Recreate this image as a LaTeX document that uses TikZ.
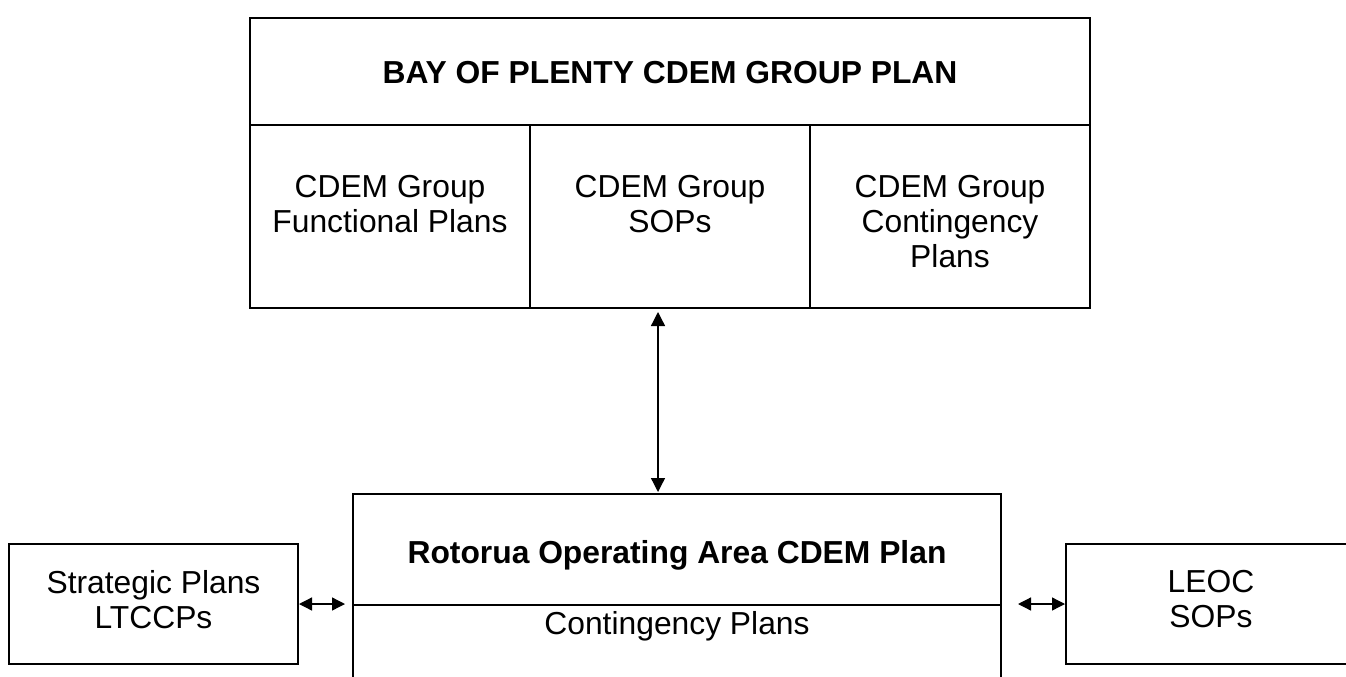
\documentclass[tikz,border=0pt]{standalone}
\usepackage{fontspec}
\setmainfont{Liberation Sans}
\usetikzlibrary{arrows.meta}
\begin{document}
\begin{tikzpicture}[x=1pt,y=-1pt,
  cell/.style={draw, line width=2pt, rectangle, inner sep=0pt, outer sep=0pt},
  txt/.style={inner sep=0pt, align=center, font=\fontsize{31.8}{35}\selectfont},
  btxt/.style={inner sep=0pt, font=\fontsize{31.8}{35}\selectfont\bfseries},
  link/.style={line width=1.3pt, {Triangle[length=14pt,width=14pt]}-{Triangle[length=14pt,width=14pt]}},
  hlink/.style={line width=1.3pt, {Triangle[length=13pt,width=13pt]}-{Triangle[length=13pt,width=13pt]}}
]
\useasboundingbox (0,0) rectangle (1346,677);
\clip (0,0) rectangle (1346,677);
% top group plan
\node[cell, minimum width=840pt, minimum height=107pt] (title) at (670,71.5) {};
\node[cell, minimum width=280pt, minimum height=183pt] (c1) at (390,216.5) {};
\node[cell, minimum width=280pt, minimum height=183pt] (c2) at (670,216.5) {};
\node[cell, minimum width=280pt, minimum height=183pt] (c3) at (950,216.5) {};
\node[btxt, anchor=base] (titletxt) at (670,83.5) {BAY OF PLENTY CDEM GROUP PLAN};
\node[txt, anchor=north] (c1txt) at (390,175.5) {CDEM Group\\Functional Plans};
\node[txt, anchor=north] (c2txt) at (670,175.5) {CDEM Group\\SOPs};
\node[txt, anchor=north] (c3txt) at (950,175.5) {CDEM Group\\Contingency\\Plans};
% rotorua plan
\node[cell, minimum width=648pt, minimum height=111pt] (rot) at (677,549.5) {};
\node[cell, minimum width=648pt, minimum height=85pt] (cont) at (677,647.5) {};
\node[btxt, anchor=base] (rottxt) at (677,563.5) {Rotorua Operating Area CDEM Plan};
\node[txt, anchor=base] (conttxt) at (677,634.5) {Contingency Plans};
% side boxes
\node[cell, minimum width=289pt, minimum height=120pt] (strat) at (153.5,604) {};
\node[txt, anchor=north] (strattxt) at (153.5,570.5) {Strategic Plans\\LTCCPs};
\node[cell, minimum width=290pt, minimum height=120pt] (leoc) at (1211,604) {};
\node[txt, anchor=north] (leoctxt) at (1211,570.5) {LEOC\\SOPs};
% connectors
\coordinate (vtop) at (658,312);
\coordinate (vbot) at (658,492);
\draw[link] (vtop) -- (vbot);
\coordinate (la) at (299,604);
\coordinate (lb) at (345,604);
\draw[hlink] (la) -- (lb);
\coordinate (ra) at (1018,604);
\coordinate (rb) at (1065,604);
\draw[hlink] (ra) -- (rb);
\end{tikzpicture}
\end{document}
